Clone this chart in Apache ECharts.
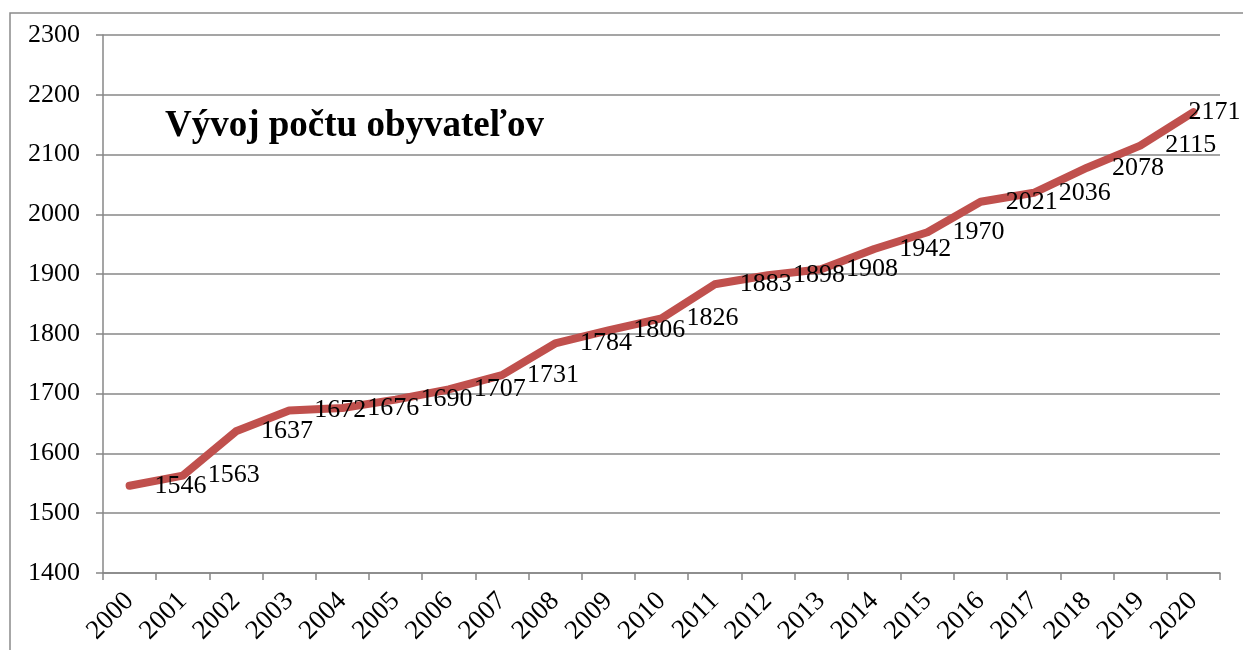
<!DOCTYPE html>
<html>
<head>
<meta charset="utf-8">
<script src="https://cdn.jsdelivr.net/npm/echarts@6/dist/echarts.min.js"></script>
<style>
html,body{margin:0;padding:0;background:#fff;}
#chart{width:1243px;height:650px;}
</style>
</head>
<body>
<div id="chart"></div>
<script>
const years = ['2000','2001','2002','2003','2004','2005','2006','2007','2008','2009','2010','2011','2012','2013','2014','2015','2016','2017','2018','2019','2020'];
const population = [1546,1563,1637,1672,1676,1690,1707,1731,1784,1806,1826,1883,1898,1908,1942,1970,2021,2036,2078,2115,2171];
const titleText = 'Vývoj počtu obyvateľov';

const serif = '"Liberation Serif", "Times New Roman", serif';
const gridColor = '#878787';
const lineColor = '#C0504D';

const seriesData = population.map((v, i) => {
  if (i === population.length - 1) {
    return { value: v, label: { distance: -6 } };
  }
  return v;
});

const chart = echarts.init(document.getElementById('chart'), null, { renderer: 'canvas' });
chart.setOption({
  animation: false,
  backgroundColor: '#fff',
  graphic: [
    {
      type: 'rect',
      shape: { x: 10, y: 13, width: 1245, height: 650 },
      style: { fill: 'none', stroke: '#8a8a8a', lineWidth: 1.5 },
      z: -1
    }
  ],
  title: {
    text: titleText,
    left: 165,
    top: 108,
    padding: 0,
    textStyle: { fontFamily: serif, fontWeight: 'bold', fontSize: 37, color: '#000' }
  },
  grid: { left: 103, right: 23, top: 35, bottom: 77, containLabel: false },
  xAxis: {
    type: 'category',
    data: years,
    boundaryGap: true,
    axisLine: { lineStyle: { color: gridColor, width: 1.5 } },
    axisTick: { show: true, length: 7, alignWithLabel: false, lineStyle: { color: gridColor, width: 1.5 } },
    axisLabel: { rotate: 45, interval: 0, margin: 24, fontFamily: serif, fontSize: 27, color: '#000' },
    splitLine: { show: false }
  },
  yAxis: {
    type: 'value',
    min: 1400,
    max: 2300,
    interval: 100,
    axisLine: { show: true, lineStyle: { color: gridColor, width: 1.5 } },
    axisTick: { show: true, length: 7, lineStyle: { color: gridColor, width: 1.5 } },
    axisLabel: { margin: 23, fontFamily: serif, fontSize: 26, color: '#000', formatter: (v) => String(v) },
    splitLine: { show: true, lineStyle: { color: gridColor, width: 1.5 } }
  },
  series: [
    {
      type: 'line',
      data: seriesData,
      smooth: false,
      symbol: 'circle',
      symbolSize: 2,
      showSymbol: true,
      itemStyle: { color: lineColor },
      lineStyle: { color: lineColor, width: 8, cap: 'round', join: 'round' },
      label: {
        show: true,
        position: 'right',
        distance: 24,
        offset: [0, 2],
        fontFamily: serif,
        fontSize: 26,
        color: '#000'
      },
      labelLayout: { hideOverlap: false }
    }
  ]
});
</script>
</body>
</html>
